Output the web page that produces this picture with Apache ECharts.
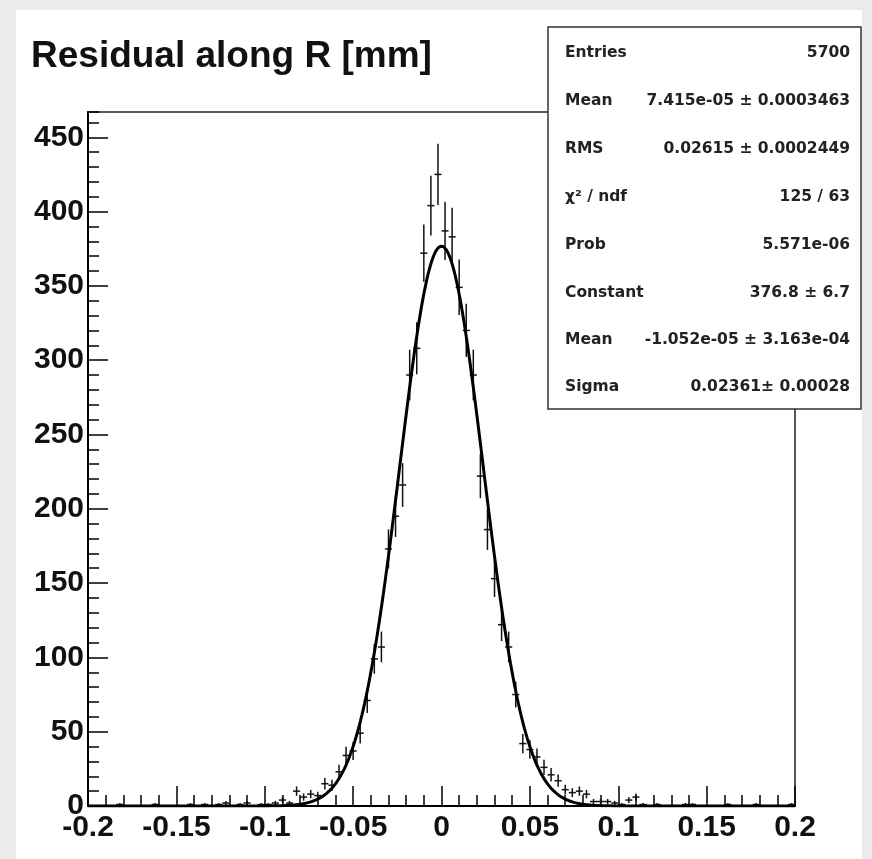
<!DOCTYPE html>
<html>
<head>
<meta charset="utf-8">
<script src="https://cdn.jsdelivr.net/npm/echarts@6/dist/echarts.min.js"></script>
<style>
  html, body { margin: 0; padding: 0; background: #ebebeb; }
  #pad { position: absolute; left: 16px; top: 10px; width: 846px; height: 849px; background: #ffffff; }
  #chart { position: absolute; left: 0; top: 0; width: 872px; height: 859px; }
</style>
</head>
<body>
<div id="pad"></div>
<div id="chart"></div>
<script>
// Histogram binning: 100 bins over [-0.2, 0.2]
const histLow = -0.2;
const histHigh = 0.2;
const binWidth = 0.004;

// Entries per bin, left to right
const counts = [
  0, 0, 0, 0, 1, 0, 0, 0, 0, 1,
  0, 0, 0, 0, 1, 0, 1, 0, 1, 2,
  0, 1, 2, 0, 1, 1, 2, 4, 2, 10,
  6, 8, 7, 15, 14, 23, 34, 37, 49, 71,
  99, 107, 173, 195, 216, 290, 308, 372, 404, 425,
  387, 383, 349, 320, 290, 222, 186, 153, 122, 107,
  75, 42, 38, 33, 26, 21, 17, 11, 9, 10,
  8, 3, 3, 3, 2, 1, 4, 6, 1, 0,
  1, 0, 0, 0, 1, 1, 0, 0, 0, 0,
  1, 0, 0, 0, 1, 0, 0, 0, 0, 1
];

// Gaussian fit parameters
const fitConstant = 376.8;
const fitMean = -1.052e-05;
const fitSigma = 0.02361;

// Axes
const yMax = 467;
const xTickLabels = ['-0.2', '-0.15', '-0.1', '-0.05', '0', '0.05', '0.1', '0.15', '0.2'];
const yTickLabels = ['0', '50', '100', '150', '200', '250', '300', '350', '400', '450'];

// Statistics box
const statsNames = ['Entries', 'Mean', 'RMS', '\u03C7\u00B2 / ndf', 'Prob', 'Constant', 'Mean', 'Sigma'];
const statsValues = [
  '5700',
  '7.415e-05 \u00B1 0.0003463',
  '0.02615 \u00B1 0.0002449',
  '125 / 63',
  '5.571e-06',
  '376.8 \u00B1 6.7',
  '-1.052e-05 \u00B1 3.163e-04',
  '0.02361\u00B1 0.00028'
];

const titleText = 'Residual along R [mm]';

// ---- build series data ----
const histPoints = [];
counts.forEach((n, i) => {
  if (n > 0) histPoints.push([histLow + (i + 0.5) * binWidth, n]);
});

const fitPoints = [];
for (let k = 0; k <= 800; k++) {
  const x = histLow + k * (histHigh - histLow) / 800;
  const z = (x - fitMean) / fitSigma;
  fitPoints.push([x, fitConstant * Math.exp(-0.5 * z * z)]);
}

const labelFont = { fontFamily: 'Liberation Sans', fontWeight: 'bold', fontSize: 30, color: '#111' };
const statsFont = 'bold 15.5px "DejaVu Sans"';

const rowY = [53, 101, 149, 197, 245, 293, 340, 387];
const statsGraphics = [{
  type: 'rect', z: 100,
  shape: { x: 548, y: 27, width: 313, height: 382 },
  style: { fill: '#ffffff', stroke: '#333333', lineWidth: 1.5 }
}];
statsNames.forEach((name, i) => {
  statsGraphics.push({
    type: 'text', z: 101, x: 565, y: rowY[i],
    style: { text: name, font: statsFont, fill: '#222', align: 'left', verticalAlign: 'middle' }
  });
  statsGraphics.push({
    type: 'text', z: 101, x: 850, y: rowY[i],
    style: { text: statsValues[i], font: statsFont, fill: '#222', align: 'right', verticalAlign: 'middle' }
  });
});

const chart = echarts.init(document.getElementById('chart'));

const option = {
  animation: false,
  backgroundColor: 'transparent',
  grid: {
    left: 88, right: 77, top: 112, bottom: 53,
    show: true, borderColor: '#222', borderWidth: 1.5, backgroundColor: 'transparent'
  },
  title: {
    text: titleText, left: 26, top: 33,
    textStyle: { fontFamily: 'Liberation Sans', fontWeight: 'bold', fontSize: 37, color: '#111' }
  },
  xAxis: [{
    type: 'value', position: 'bottom', min: histLow, max: histHigh, interval: 0.05,
    axisLine: { show: true, onZero: false, lineStyle: { color: '#000', width: 2 } },
    axisTick: { show: true, inside: true, length: 20, lineStyle: { color: '#000', width: 1.5 } },
    axisLabel: {
      ...labelFont, margin: 7,
      formatter: v => xTickLabels[Math.round((v - histLow) / 0.05)] ?? ''
    },
    splitLine: { show: false }
  }, {
    type: 'value', position: 'bottom', min: histLow, max: histHigh, interval: 0.01,
    axisLine: { show: false, onZero: false },
    axisTick: { show: true, inside: true, length: 11, lineStyle: { color: '#000', width: 1.5 } },
    axisLabel: { show: false },
    splitLine: { show: false }
  }],
  yAxis: [{
    type: 'value', position: 'left', min: 0, max: yMax, interval: 50,
    axisLine: { show: true, onZero: false, lineStyle: { color: '#000', width: 2 } },
    axisTick: { show: true, inside: true, length: 20, lineStyle: { color: '#000', width: 1.5 } },
    axisLabel: {
      ...labelFont, margin: 4, showMaxLabel: false,
      formatter: v => yTickLabels[Math.round(v / 50)] ?? ''
    },
    splitLine: { show: false }
  }, {
    type: 'value', position: 'left', min: 0, max: yMax, interval: 10,
    axisLine: { show: false, onZero: false },
    axisTick: { show: true, inside: true, length: 11, lineStyle: { color: '#000', width: 1.5 } },
    axisLabel: { show: false },
    splitLine: { show: false }
  }],
  series: [{
    type: 'custom',
    xAxisIndex: 0, yAxisIndex: 0, z: 2,
    data: histPoints,
    renderItem: (params, api) => {
      const x = api.value(0);
      const n = api.value(1);
      const err = Math.sqrt(n);
      const c = api.coord([x, n]);
      const lo = api.coord([x, Math.max(0, n - err)]);
      const hi = api.coord([x, n + err]);
      const l = api.coord([x - binWidth / 2, n]);
      const r = api.coord([x + binWidth / 2, n]);
      const st = { stroke: '#111', lineWidth: 1.5 };
      return {
        type: 'group',
        children: [
          { type: 'line', shape: { x1: c[0], y1: hi[1], x2: c[0], y2: lo[1] }, style: st },
          { type: 'line', shape: { x1: l[0], y1: c[1], x2: r[0], y2: c[1] }, style: st }
        ]
      };
    }
  }, {
    type: 'line',
    xAxisIndex: 0, yAxisIndex: 0, z: 3,
    data: fitPoints,
    showSymbol: false,
    symbol: 'none',
    lineStyle: { color: '#000', width: 3 }
  }],
  graphic: statsGraphics
};

chart.setOption(option);
</script>
</body>
</html>
